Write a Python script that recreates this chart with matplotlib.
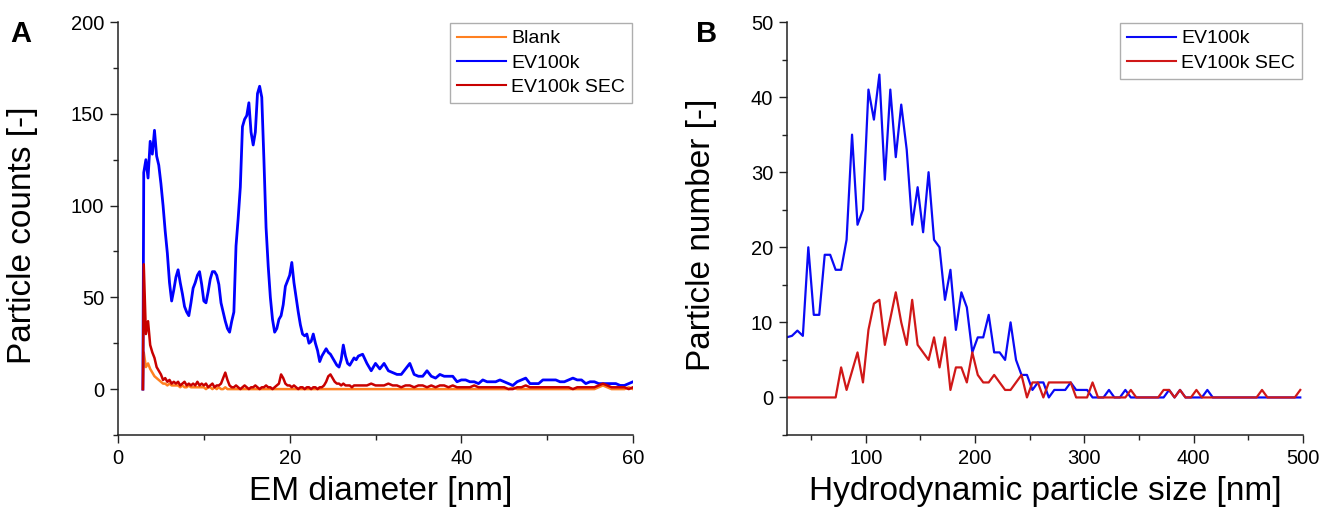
"""
Particle size distributions: EM diameter (A) and hydrodynamic size (B).
"""

import numpy as np
import matplotlib.pyplot as plt
from matplotlib.ticker import MultipleLocator

plt.rcParams['font.family'] = ['Liberation Sans', 'DejaVu Sans']

# Panel A: EM diameter bins, 0.25 nm up to 28 nm, then 0.5 nm up to 60 nm
em_diameter = np.concatenate([[2.9], np.arange(3.0, 28.01, 0.25), np.arange(28.5, 60.01, 0.5)])

ev100k_em = [0,
    118, 125, 115, 135,
    128, 141, 127, 122,
    112, 100, 86, 74,
    58, 48, 54, 61,
    65, 58, 52, 45,
    42, 40, 47, 55,
    58, 62, 64, 57,
    48, 47, 53, 60,
    64, 64, 62, 57,
    47, 42, 37, 33,
    31, 37, 42, 78,
    93, 110, 143, 147,
    149, 156, 140, 133,
    140, 161, 165, 159,
    125, 88, 67, 50,
    38, 31, 33, 38,
    40, 46, 56, 59,
    62, 69, 58, 50,
    42, 35, 30, 29,
    30, 25, 26, 30,
    25, 21, 15, 18,
    20, 22, 20, 19,
    17, 15, 13, 12,
    16, 24, 18, 14,
    13, 15, 17, 16,
    18,
    19, 14, 10, 14,
    11, 14, 10, 9,
    8, 8, 11, 14,
    8, 7, 7, 10,
    7, 6, 8, 7,
    7, 7, 4, 5,
    5, 4, 4, 3,
    5, 4, 4, 4,
    5, 4, 3, 2,
    4, 5, 6, 3,
    3, 3, 5, 5,
    5, 5, 4, 4,
    5, 6, 5, 5,
    3, 4, 4, 3,
    3, 3, 3, 3,
    2, 2, 3, 4]

sec_em = [0,
    68, 30, 37, 24,
    20, 17, 12, 10,
    8, 5, 6, 4,
    5, 3, 4, 3,
    4, 2, 3, 4,
    2, 3, 2, 3,
    2, 4, 2, 3,
    2, 3, 1, 2,
    3, 1, 2, 2,
    3, 6, 9, 5,
    2, 1, 1, 2,
    1, 0, 1, 2,
    1, 0, 1, 1,
    2, 1, 0, 1,
    1, 2, 1, 1,
    0, 1, 2, 3,
    8, 6, 3, 2,
    2, 1, 2, 1,
    0, 1, 1, 0,
    1, 1, 0, 1,
    1, 0, 1, 1,
    2, 4, 7, 8,
    6, 4, 3, 3,
    2, 3, 2, 2,
    2, 1, 2, 2,
    2,
    2, 2, 3, 2,
    2, 2, 3, 2,
    2, 1, 2, 2,
    1, 2, 2, 1,
    2, 1, 2, 2,
    1, 2, 1, 1,
    1, 1, 2, 1,
    1, 1, 1, 1,
    1, 1, 0, 0,
    1, 1, 2, 1,
    1, 1, 1, 1,
    1, 1, 1, 1,
    1, 0, 1, 1,
    1, 1, 1, 2,
    3, 2, 1, 1,
    1, 1, 0, 1]

blank_em = [0,
    20, 12, 14, 11,
    9, 7, 6, 5,
    4, 3, 3, 2,
    3, 2, 2, 2,
    2, 1, 2, 1,
    1, 2, 1, 1,
    1, 1, 1, 1,
    1, 0, 1, 1,
    0, 1, 0, 1,
    0, 0, 1, 0,
    0, 0, 0, 0,
    0, 0, 0, 0,
    0, 0, 0, 0,
    0, 0, 0, 0,
    0, 0, 0, 0,
    0, 0, 0, 0,
    0, 0, 0, 0,
    0, 0, 0, 0,
    0, 0, 0, 0,
    0, 0, 0, 0,
    0, 0, 0, 0,
    0, 0, 0, 0,
    0, 0, 0, 0,
    0, 0, 0, 0,
    0, 0, 0, 0,
    0,
    0, 0, 0, 0,
    0, 0, 0, 0,
    0, 0, 0, 0,
    0, 0, 0, 0,
    0, 0, 0, 0,
    0, 0, 0, 0,
    0, 0, 0, 0,
    0, 0, 0, 0,
    0, 0, 0, 1,
    0, 0, 0, 0,
    0, 0, 0, 0,
    0, 0, 0, 0,
    0, 0, 0, 0,
    0, 0, 0, 1,
    2, 1, 0, 0,
    0, 0, 1, 0]

# Panel B: hydrodynamic size, 5 nm bins
hydro_size = np.arange(27.5, 500, 5)

ev100k_nta = [
    8, 8.2, 8.9, 8.2, 20, 11, 11, 19, 19, 17,
    17, 21, 35, 23, 25, 41, 37, 43, 29, 41,
    32, 39, 33, 23, 28, 22, 30, 21, 20, 13,
    17, 9, 14, 12, 6, 8, 8, 11, 6, 6,
    5, 10, 5, 3, 3, 1, 2, 2, 0, 1,
    1, 1, 2, 1, 1, 1, 0, 0, 0, 1,
    0, 0, 1, 0, 0, 0, 0, 0, 0, 0,
    1, 0, 1, 0, 0, 0, 0, 1, 0, 0,
    0, 0, 0, 0, 0, 0, 0, 0, 0, 0,
    0, 0, 0, 0, 0]

sec_nta = [
    0, 0, 0, 0, 0, 0, 0, 0, 0, 0,
    4, 1, 3.5, 6, 2, 9, 12.5, 13, 7, 10.5,
    14, 10, 7, 13, 7, 6, 5, 8, 4, 8,
    1, 4, 4, 2, 6, 3, 2, 2, 3, 2,
    1, 1, 2, 3, 0, 2, 2, 0, 2, 2,
    2, 2, 2, 0, 0, 0, 2, 0, 0, 0,
    0, 0, 0, 1, 0, 0, 0, 0, 0, 1,
    1, 0, 1, 0, 0, 1, 0, 0, 0, 0,
    0, 0, 0, 0, 0, 0, 0, 1, 0, 0,
    0, 0, 0, 0, 1]


def style_axes(ax):

    """Origin-like look: only left and bottom spines, outward ticks."""
    for side in ['top', 'right']:
        ax.spines[side].set_visible(False)
    for side in ['left', 'bottom']:
        ax.spines[side].set_linewidth(1.1)
        ax.spines[side].set_color('#222222')
    ax.tick_params(which='major', direction='out', length=6, width=1.0,
                   color='#222222', labelsize=14.5, pad=4)
    ax.tick_params(which='minor', direction='out', length=3.5, width=1.0, color='#222222')


def add_legend(ax):
    leg = ax.legend(loc='upper right', fontsize=14, frameon=True, fancybox=False,
                    borderaxespad=0.05, borderpad=0.35, labelspacing=0.35,
                    handlelength=2.5, handletextpad=0.3)
    leg.get_frame().set_edgecolor('#9a9a9a')
    leg.get_frame().set_linewidth(1.0)
    for line in leg.get_lines():
        line.set_linewidth(1.5)
    return leg


fig = plt.figure(figsize=(13.36, 5.24), dpi=100)
axA = fig.add_axes([118 / 1336, 89 / 524, 515 / 1336, 413 / 524])
axB = fig.add_axes([787 / 1336, 89 / 524, 516 / 1336, 413 / 524])

# A: EM diameter
axA.plot(em_diameter, blank_em, color='#FF8020', lw=1.8, label='Blank')
axA.plot(em_diameter, ev100k_em, color='#0000FF', lw=2.0, label='EV100k')
axA.plot(em_diameter, sec_em, color='#C80000', lw=1.8, label='EV100k SEC')
axA.set_xlim(0, 60)
axA.set_ylim(-25, 200)
axA.xaxis.set_major_locator(MultipleLocator(20))
axA.xaxis.set_minor_locator(MultipleLocator(10))
axA.yaxis.set_major_locator(MultipleLocator(50))
axA.yaxis.set_minor_locator(MultipleLocator(25))
style_axes(axA)
axA.set_xlabel('EM diameter [nm]', fontsize=24)
axA.set_ylabel('Particle counts [-]', fontsize=24)
axA.xaxis.set_label_coords(0.51, -0.10)
axA.yaxis.set_label_coords(-0.155, 0.484)
add_legend(axA)

# B: hydrodynamic size
axB.plot(hydro_size, ev100k_nta, color='#0A0AF5', lw=1.6, label='EV100k')
axB.plot(hydro_size, sec_nta, color='#D01818', lw=1.6, label='EV100k SEC')
axB.set_xlim(28, 500)
axB.set_ylim(-5, 50)
axB.xaxis.set_major_locator(MultipleLocator(100))
axB.xaxis.set_minor_locator(MultipleLocator(50))
axB.yaxis.set_major_locator(MultipleLocator(10))
axB.yaxis.set_minor_locator(MultipleLocator(5))
style_axes(axB)
axB.set_xlabel('Hydrodynamic particle size [nm]', fontsize=24)
axB.set_ylabel('Particle number [-]', fontsize=24)
axB.xaxis.set_label_coords(0.50, -0.10)
axB.yaxis.set_label_coords(-0.136, 0.484)
add_legend(axB)

fig.text(0.008, 0.92, 'A', fontsize=21, fontweight='bold', ha='left', va='baseline')
fig.text(0.521, 0.92, 'B', fontsize=21, fontweight='bold', ha='left', va='baseline')

fig.savefig('out.png', dpi=100)
